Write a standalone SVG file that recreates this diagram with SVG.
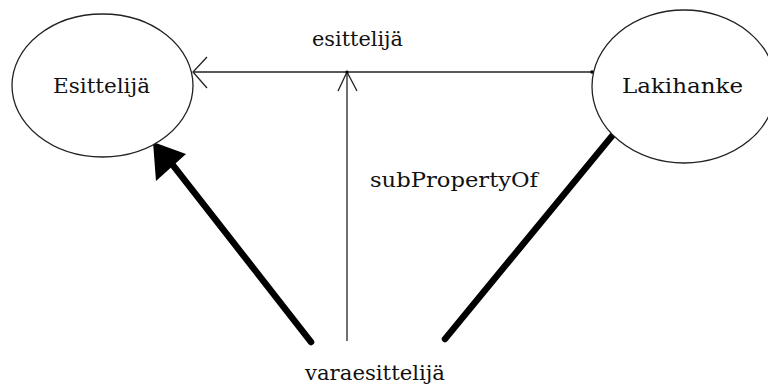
<svg xmlns="http://www.w3.org/2000/svg" width="768" height="385" viewBox="0 0 768 385">
<style>
.node ellipse{fill:#fff;stroke:#222;stroke-width:1.3}
text{font-family:"DejaVu Serif","Liberation Serif",serif;font-size:21px;fill:#111}
.thin{stroke:#222;stroke-width:1.3;fill:none}
.thick{stroke:#000;stroke-width:6.5;fill:none;stroke-linecap:round}
</style>
<rect width="768" height="385" fill="#fff"/>
<g id="connectors">
<line class="thin" x1="592" y1="72" x2="193" y2="72"/>
<polyline class="thin" points="207,57 193,72 207,88"/>
<circle cx="592" cy="72" r="1.8" fill="#000"/>
<line class="thin" x1="347" y1="341" x2="347" y2="72"/>
<polyline class="thin" points="338,91 347,72 357,91"/>
<circle cx="347" cy="72" r="1.6" fill="#000"/>
<line class="thick" x1="311" y1="342" x2="172" y2="164"/>
<polygon points="153,142 186,154 156,181" fill="#000"/>
<line class="thick" x1="445" y1="339" x2="612" y2="136"/>
<text x="312" y="46" textLength="91" lengthAdjust="spacingAndGlyphs">esittelijä</text>
<text x="370" y="187" textLength="168" lengthAdjust="spacingAndGlyphs">subPropertyOf</text>
</g>
<g id="esittelija" class="node">
<ellipse cx="102.5" cy="85.5" rx="90.5" ry="71.5"/>
<text x="53" y="93" textLength="97" lengthAdjust="spacingAndGlyphs">Esittelijä</text>
</g>
<g id="lakihanke" class="node">
<ellipse cx="684" cy="86.5" rx="92" ry="76.5"/>
<text x="622" y="93" textLength="121" lengthAdjust="spacingAndGlyphs">Lakihanke</text>
</g>
<g id="varaesittelija" class="node">
<text x="305" y="380" textLength="140" lengthAdjust="spacingAndGlyphs">varaesittelijä</text>
</g>
</svg>
